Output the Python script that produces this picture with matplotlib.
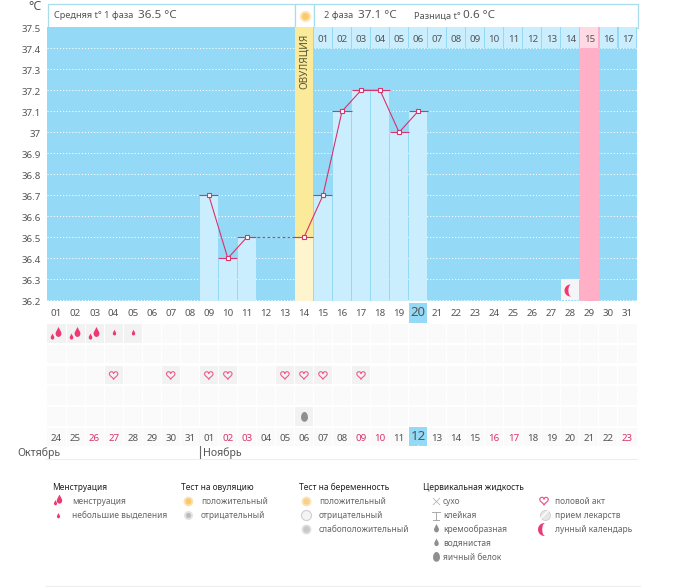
import numpy as np
import matplotlib
matplotlib.use("Agg")
import matplotlib.pyplot as plt
from matplotlib.patches import Rectangle
from matplotlib.path import Path
from matplotlib.transforms import offset_copy

plt.rcParams['font.family'] = ['Noto Sans', 'DejaVu Sans']

W, H = 675, 587
# ---------- data ----------
days = list(range(1, 32))
day_labels = [f"{d:02d}" for d in days]
temp_days = [9, 10, 11, 14, 15, 16, 17, 18, 19, 20]
temps = [36.7, 36.4, 36.5, 36.5, 36.7, 37.1, 37.2, 37.2, 37.0, 37.1]
y_ticks = [37.5, 37.4, 37.3, 37.2, 37.1, 37.0, 36.9, 36.8, 36.7, 36.6, 36.5, 36.4, 36.3, 36.2]
y_labels = ["37.5", "37.4", "37.3", "37.2", "37.1", "37", "36.9", "36.8", "36.7", "36.6", "36.5", "36.4", "36.3", "36.2"]
ovulation_day = 14
pink_day = 29
moon_day = 28
phase2_labels = ["01", "02", "03", "04", "05", "06", "07", "08", "09", "10", "11", "12", "13", "14", "15", "16", "17"]
calendar_dates = ["24", "25", "26", "27", "28", "29", "30", "31", "01", "02", "03", "04", "05", "06", "07", "08",
                  "09", "10", "11", "12", "13", "14", "15", "16", "17", "18", "19", "20", "21", "22", "23"]
red_dates = ["26", "27", "02", "03", "09", "10", "16", "17", "23"]
today_day = 20
heavy_days = [1, 2, 3]
light_days = [4, 5]
intercourse_days = [4, 7, 9, 10, 13, 14, 15, 17]
eggwhite_days = [14]

legend_groups = [
    ("Менструация", 52, 72, ["менструация", "небольшие выделения"]),
    ("Тест на овуляцию", 181, 201, ["положительный", "отрицательный"]),
    ("Тест на беременность", 299, 319, ["положительный", "отрицательный", "слабоположительный"]),
    ("Цервикальная жидкость", 423, 443, ["сухо", "клейкая", "кремообразная", "водянистая", "яичный белок"]),
    ("", 0, 555, ["половой акт", "прием лекарств", "лунный календарь"]),
]

# ---------- colours ----------
BLUE = "#94D9F5"; BAR = "#CBEEFE"; SEP = "#9CD6EE"; YEL = "#FBEA9A"; PALEY = "#FEF5CE"
PINK = "#FFB0C6"; PALEP = "#FFD9E3"; LINE = "#D8336C"; TXT = "#555555"; RED = "#D8336C"
CELL = "#FAFAFB"; CELLON = "#F2F2F2"; GREY = "#8F8F8F"; DROP = "#EE3A72"

# ---------- icon shapes ----------
t = np.linspace(-0.75 * np.pi, 0.75 * np.pi, 30)
DROP_M = Path(np.vstack([[0, 1.9], np.c_[0.85 * np.sin(t + np.pi), -np.cos(t)], [0, 1.9]]), closed=True)
t2 = np.linspace(0, 2 * np.pi, 40)
EGG_M = Path(np.c_[0.85 * np.cos(t2), np.where(np.sin(t2) > 0, 1.35, 1.05) * np.sin(t2)], closed=True)
a = np.linspace(0.5 * np.pi, 1.5 * np.pi, 30)
b = np.linspace(1.5 * np.pi, 0.5 * np.pi, 30)
MOON_M = Path(np.r_[np.c_[np.cos(a), np.sin(a)], np.c_[0.4 * np.cos(b) + 0.05, 0.95 * np.sin(b)]], closed=True)
hx = np.linspace(0, 2 * np.pi, 60)
HEART_M = Path(np.c_[16 * np.sin(hx) ** 3,
                     13 * np.cos(hx) - 5 * np.cos(2 * hx) - 2 * np.cos(3 * hx) - np.cos(4 * hx)], closed=True)


def pt2s(size_px):
    return (size_px * 0.72) ** 2


fig = plt.figure(figsize=(W / 100, H / 100), dpi=100, facecolor="white")

# pixel-space layer for page furniture
px = fig.add_axes([0, 0, 1, 1], zorder=0)
px.set_xlim(0, W); px.set_ylim(H, 0); px.axis("off")

X0, X1 = 47, 637
CW = (X1 - X0) / 31
Y_T, Y_B = 27.3, 301.35


def cell_x(d):
    return X0 + (d - 1) * CW


# header
for x0, x1 in [(X0, cell_x(14)), (cell_x(14), cell_x(15)), (cell_x(15), X1)]:
    px.add_patch(Rectangle((x0 + .5, 3.5), x1 - x0, 24, fc="white", ec="#A9DDEE", lw=0.9))
hfs = 6.6
px.text(54.5, 16, "Средняя t° 1 фаза", fontsize=hfs, color=TXT, va="center")
px.text(138, 15.5, "36.5 °C", fontsize=8.4, color=TXT, va="center")
px.text(324, 16, "2 фаза", fontsize=hfs, color=TXT, va="center")
px.text(358, 15.5, "37.1 °C", fontsize=8.4, color=TXT, va="center")
px.text(414, 16, "Разница t°", fontsize=hfs, color=TXT, va="center")
px.text(463, 15.5, "0.6 °C", fontsize=8.4, color=TXT, va="center")
px.text(42, 6.5, "°C", fontsize=9, color=TXT, va="center", ha="right")
px.scatter([304.5], [16], s=pt2s(9), c="#FBC96B", edgecolors="#FCE3B0", linewidths=1.5)

# today highlights
px.add_patch(Rectangle((cell_x(today_day), 303), CW - .3, 20, fc=BLUE, ec="none"))
px.add_patch(Rectangle((cell_x(today_day), 427), CW - .3, 19, fc=BLUE, ec="none", zorder=3))
px.scatter([cell_x(today_day) + CW / 2], [445.5], marker="^", s=8, c="white", linewidths=0, zorder=4)

# ---------- temperature chart ----------
ax = fig.add_axes([X0 / W, 1 - Y_B / H, (X1 - X0) / W, (Y_B - Y_T) / H], zorder=1)
ax.set_facecolor(BLUE)
ax.set_xlim(0.5, 31.5)
ax.set_ylim(36.195, 37.5)
for s in ax.spines.values():
    s.set_visible(False)
ax.set_xticks(days, day_labels)
ax.set_yticks(y_ticks, y_labels)
ax.tick_params(length=0, colors=TXT, labelsize=7.0)
ax.tick_params(axis="x", pad=5.8)
ax.tick_params(axis="y", pad=4.5)
for tk, d in zip(ax.xaxis.get_major_ticks(), days):
    if d == today_day:
        tk.label1.set_fontsize(9.5)
        tk.set_pad(3.5)
# tick labels sit slightly below their grid lines in the reference
shift = matplotlib.transforms.ScaledTranslation(0, -1.2 / 72, fig.dpi_scale_trans)
for lab in ax.get_yticklabels():
    lab.set_transform(lab.get_transform() + shift)

ax.hlines(y_ticks[1:], 0.5, 31.5, colors="white", linestyles=(0, (1, 1.8)), lw=0.8, zorder=1)

# ovulation and pink columns
ax.bar(ovulation_day, 37.5 - 36.195, bottom=36.195, width=0.97, color=YEL, zorder=2)
ax.bar(pink_day, 37.5 - 36.195, bottom=36.195, width=0.97, color=PINK, zorder=2)

# cycle day strip
for lab, d in zip(phase2_labels, range(15, 32)):
    ax.bar(d, 0.1, bottom=37.4, width=0.94, color=PALEP if d == pink_day else BAR, zorder=3)
    ax.text(d, 37.44, lab, fontsize=7, color=TXT, ha="center", va="center", zorder=4)
ax.bar(moon_day, 0.1, bottom=36.2, width=0.94, color="#F3F5F6", zorder=3)
ax.scatter([moon_day], [36.25], marker=MOON_M, s=pt2s(12), c=DROP, linewidths=0, zorder=4)

# bars
for d, v in zip(temp_days, temps):
    col = PALEY if d == ovulation_day else BAR
    ax.bar(d, v - 36.195, bottom=36.195, width=0.95, color=col, zorder=3)
    ax.hlines(v, d - 0.5, d + 0.5, colors=LINE, lw=0.8, zorder=5)

# line
solid_a = [i for i, d in enumerate(temp_days) if d <= 11]
solid_b = [i for i, d in enumerate(temp_days) if d >= 14]
ax.plot([temp_days[i] for i in solid_a], [temps[i] for i in solid_a], color=LINE, lw=0.8, zorder=6)
ax.plot([temp_days[i] for i in solid_b], [temps[i] for i in solid_b], color=LINE, lw=0.8, zorder=6)
ax.plot([11, 14], [temps[2], temps[3]], color=LINE, lw=0.8, ls=(0, (2.5, 2)), zorder=6)
ax.plot(temp_days, temps, ls="none", marker="s", ms=3.4, mfc="white", mec=LINE, mew=0.8, zorder=7)
ax.text(ovulation_day, 37.34, "ОВУЛЯЦИЯ", rotation=90, fontsize=7.2, color="#555533",
        ha="center", va="center", zorder=4)

# ---------- symptom grid ----------
R0, R1 = 323, 447.5
ax2 = fig.add_axes([X0 / W, 1 - R1 / H, (X1 - X0) / W, (R1 - R0) / H], zorder=2)
ax2.set_xlim(0.5, 31.5); ax2.set_ylim(6.5, 0.5); ax2.axis("off")
ax2.patch.set_alpha(0)

active = {(d, 1) for d in heavy_days + light_days} | {(d, 3) for d in intercourse_days} | {(d, 5) for d in eggwhite_days}
for d in days:
    for r in range(1, 7):
        if d == today_day and r == 6:
            continue
        ax2.bar(d, 0.9, bottom=r - 0.45, width=0.95, color=CELLON if (d, r) in active else CELL, zorder=1)
for d in heavy_days:
    ax2.scatter([d + 0.08], [0.98], marker=DROP_M, s=pt2s(13), c=DROP, linewidths=0, zorder=3)
    ax2.scatter([d - 0.22], [1.18], marker=DROP_M, s=pt2s(8), c=DROP, linewidths=0, zorder=3)
ax2.scatter(light_days, [1.0] * len(light_days), marker=DROP_M, s=pt2s(7.5), c=DROP, linewidths=0, zorder=3)
ax2.scatter(intercourse_days, [3] * len(intercourse_days), marker=HEART_M, s=pt2s(9),
            facecolors="none", edgecolors="#EE5C8A", linewidths=0.8, zorder=3)
ax2.scatter(eggwhite_days, [5.03] * len(eggwhite_days), marker=EGG_M, s=pt2s(11), c=GREY, linewidths=0, zorder=3)
for d, lab in zip(days, calendar_dates):
    is_today = d == today_day
    ax2.text(d, 5.96 if is_today else 6.07, lab, fontsize=9.5 if is_today else 7,
             color=RED if lab in red_dates else TXT, ha="center", va="center", zorder=5)

# ---------- months ----------
px.text(17, 453, "Октябрь", fontsize=7.6, color=TXT, va="center")
px.text(203, 453, "Ноябрь", fontsize=7.6, color=TXT, va="center")
px.plot([199.5, 199.5], [429, 458], color="#666666", lw=0.8)
px.plot([46, 637], [458.5, 458.5], color="#EEEEEE", lw=0.8)
px.plot([46, 640], [585.5, 585.5], color="#EEEEEE", lw=0.8)

# ---------- legend ----------
ITEM_Y = [501, 515, 529, 543, 557]
for title, tx, lx, items in legend_groups:
    if title:
        px.text(tx, 487, title, fontsize=6.05, color="#222222", va="center")
    for lab, y in zip(items, ITEM_Y):
        px.text(lx, y, lab, fontsize=6.05, color="#666666", va="center")

# menstruation icons
px.scatter([58.5], [499.5], marker=DROP_M, s=pt2s(12), c=DROP, linewidths=0)
px.scatter([54.5], [503], marker=DROP_M, s=pt2s(7), c=DROP, linewidths=0)
px.scatter([57.5], [515.5], marker=DROP_M, s=pt2s(7), c=DROP, linewidths=0)
# ovulation tests
px.scatter([187.5], [500.5], s=pt2s(8), c="#FBC96B", edgecolors="#FBE3B5", linewidths=1.3)
px.scatter([187.5], [514.5], s=pt2s(7), c="#BBBBBB", edgecolors="#E2E2E2", linewidths=1.4)
# pregnancy tests
px.scatter([305.5], [500.5], s=pt2s(8), c="#FAD089", edgecolors="#FBE3B5", linewidths=1.3)
px.scatter([305.5], [514.5], s=pt2s(10), c="#F4F4F4", edgecolors="#CFCFCF", linewidths=0.8)
px.scatter([305.5], [528.5], s=pt2s(8), c="#C8C8C8", edgecolors="#DDDDDD", linewidths=1.2)
# cervical fluid
px.scatter([436], [501], marker="x", s=pt2s(7), c="#AAAAAA", linewidths=0.5)
px.plot([436, 436], [512, 520], color="#AAAAAA", lw=0.7)
px.plot([432, 440], [512, 512], color="#AAAAAA", lw=0.7)
px.plot([433, 439], [520, 520], color="#AAAAAA", lw=0.7)
px.scatter([435.5], [529], marker=DROP_M, s=pt2s(11), c=GREY, linewidths=0)
px.scatter([435.5], [543], marker=DROP_M, s=pt2s(10), c=GREY, linewidths=0)
px.scatter([435.5], [557], marker=EGG_M, s=pt2s(11), c=GREY, linewidths=0)
# others
px.scatter([544], [500.5], marker=HEART_M, s=pt2s(9), facecolors="none", edgecolors="#EE5C8A", linewidths=0.9)
px.scatter([544.5], [514.5], s=pt2s(10), c="#E6E6E6", edgecolors="#CCCCCC", linewidths=0.6)
px.plot([540.5, 548.5], [518.5, 510.5], color="white", lw=1)
px.scatter([544], [529], marker=MOON_M, s=pt2s(13), c=DROP, linewidths=0)

fig.savefig("out.png", dpi=100, facecolor="white")
